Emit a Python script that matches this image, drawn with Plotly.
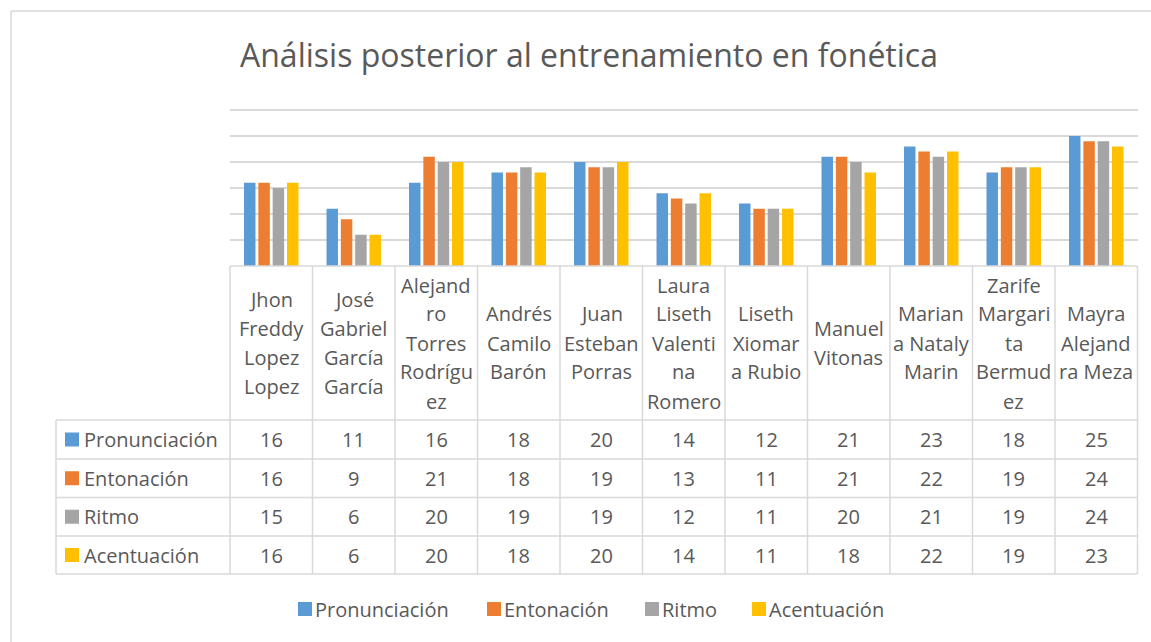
import plotly.graph_objects as go

# chart data
students = [
    "Jhon<br>Freddy<br>Lopez<br>Lopez",
    "José<br>Gabriel<br>García<br>García",
    "Alejand<br>ro<br>Torres<br>Rodrígu<br>ez",
    "Andrés<br>Camilo<br>Barón",
    "Juan<br>Esteban<br>Porras",
    "Laura<br>Liseth<br>Valenti<br>na<br>Romero",
    "Liseth<br>Xiomar<br>a Rubio",
    "Manuel<br>Vitonas",
    "Marian<br>a Nataly<br>Marin",
    "Zarife<br>Margari<br>ta<br>Bermud<br>ez",
    "Mayra<br>Alejand<br>ra Meza",
]
pronunciacion = [16, 11, 16, 18, 20, 14, 12, 21, 23, 18, 25]
entonacion = [16, 9, 21, 18, 19, 13, 11, 21, 22, 19, 24]
ritmo = [15, 6, 20, 19, 19, 12, 11, 20, 21, 19, 24]
acentuacion = [16, 6, 20, 18, 20, 14, 11, 18, 22, 19, 23]

series_names = ["Pronunciación", "Entonación", "Ritmo", "Acentuación"]
series_values = [pronunciacion, entonacion, ritmo, acentuacion]
colors = ["#5B9BD5", "#ED7D31", "#A5A5A5", "#FFC000"]

W, H = 1151, 642
TEXT = "#595959"
GRID = "#d9d9d9"
FONT = "Open Sans"
FS = 20


def px(x):
    return x / W


def py(y):
    return 1 - y / H


# layout in pixels
plot_l, plot_r = 230, 1137.5
axis_y, top_y = 266, 110
y_max = 30
y_pad = 1.5  # headroom so the top gridline is drawn
table_l = 56
row_lines = [420, 459, 497.5, 536, 574]
n = len(students)
col_w = (plot_r - plot_l) / n
px_per_unit = (axis_y - top_y) / y_max

fig = go.Figure()
for name, vals, color in zip(series_names, series_values, colors):
    fig.add_trace(go.Bar(
        x=list(range(n)), y=vals, name=name,
        marker=dict(color=color, line=dict(width=0)),
        showlegend=False,
    ))

shapes = []
annotations = []


def hline(x0, x1, y):
    shapes.append(dict(type="line", xref="paper", yref="paper",
                       x0=px(x0), x1=px(x1), y0=py(y), y1=py(y),
                       line=dict(color=GRID, width=1.5)))


def vline(x, y0, y1):
    shapes.append(dict(type="line", xref="paper", yref="paper",
                       x0=px(x), x1=px(x), y0=py(y0), y1=py(y1),
                       line=dict(color=GRID, width=1.5)))


# outer chart border
hline(11, 1151, 11)
vline(11, 11, 642)

# table lines
hline(plot_l, plot_r, axis_y)
for k in range(n + 1):
    vline(plot_l + k * col_w, axis_y, row_lines[-1])
vline(table_l, row_lines[0], row_lines[-1])
for y in row_lines:
    hline(table_l, plot_r, y)

# category header labels, one annotation per line
line_h = 29
head_mid = (axis_y + row_lines[0]) / 2
for k, label in enumerate(students):
    parts = label.split("<br>")
    cx = plot_l + (k + 0.5) * col_w
    y0 = head_mid - (len(parts) - 1) * line_h / 2
    for j, part in enumerate(parts):
        annotations.append(dict(
            x=px(cx), y=py(y0 + j * line_h), xref="paper", yref="paper",
            text=part, showarrow=False, xanchor="center", yanchor="middle",
            font=dict(family=FONT, size=FS, color=TEXT),
        ))

# data rows
for r, (name, vals, color) in enumerate(zip(series_names, series_values, colors)):
    ymid = (row_lines[r] + row_lines[r + 1]) / 2
    shapes.append(dict(type="rect", xref="paper", yref="paper",
                       x0=px(65), x1=px(79), y0=py(ymid - 7), y1=py(ymid + 7),
                       fillcolor=color, line=dict(width=0)))
    annotations.append(dict(
        x=px(82), y=py(ymid), xref="paper", yref="paper", text=name,
        showarrow=False, xanchor="left", yanchor="middle",
        font=dict(family=FONT, size=FS, color=TEXT),
    ))
    for k, v in enumerate(vals):
        annotations.append(dict(
            x=px(plot_l + (k + 0.5) * col_w), y=py(ymid), xref="paper", yref="paper",
            text=str(v), showarrow=False, xanchor="center", yanchor="middle",
            font=dict(family=FONT, size=FS, color=TEXT),
        ))

# bottom legend
legend_x = [298, 487, 645, 752]
legend_y = 609
for name, color, lx in zip(series_names, colors, legend_x):
    shapes.append(dict(type="rect", xref="paper", yref="paper",
                       x0=px(lx), x1=px(lx + 14), y0=py(legend_y - 7), y1=py(legend_y + 7),
                       fillcolor=color, line=dict(width=0)))
    annotations.append(dict(
        x=px(lx + 15), y=py(legend_y), xref="paper", yref="paper", text=name,
        showarrow=False, xanchor="left", yanchor="middle",
        font=dict(family=FONT, size=FS, color=TEXT),
    ))

# title
annotations.append(dict(
    x=px(589), y=py(54), xref="paper", yref="paper",
    text="Análisis posterior al entrenamiento en fonética",
    showarrow=False, xanchor="center", yanchor="middle",
    font=dict(family=FONT, size=32, color=TEXT),
))

fig.update_layout(
    width=W, height=H,
    margin=dict(l=0, r=0, t=0, b=0),
    paper_bgcolor="white", plot_bgcolor="white",
    barmode="group", bargap=0.305, bargroupgap=0.2,
    xaxis=dict(domain=[px(plot_l), px(plot_r)], range=[-0.5, n - 0.5],
               showticklabels=False, showgrid=False, zeroline=False, fixedrange=True),
    yaxis=dict(domain=[py(axis_y), py(top_y - y_pad * px_per_unit)],
               range=[0, y_max + y_pad], tick0=0, dtick=5,
               showticklabels=False, showgrid=True, gridcolor=GRID, gridwidth=1.5,
               zeroline=False, fixedrange=True),
    shapes=shapes, annotations=annotations,
    font=dict(family=FONT, color=TEXT),
)

fig.write_html(
    "out.html",
    config={"displayModeBar": False},
    post_script="document.body.style.margin='0';document.body.style.overflow='hidden';",
)
